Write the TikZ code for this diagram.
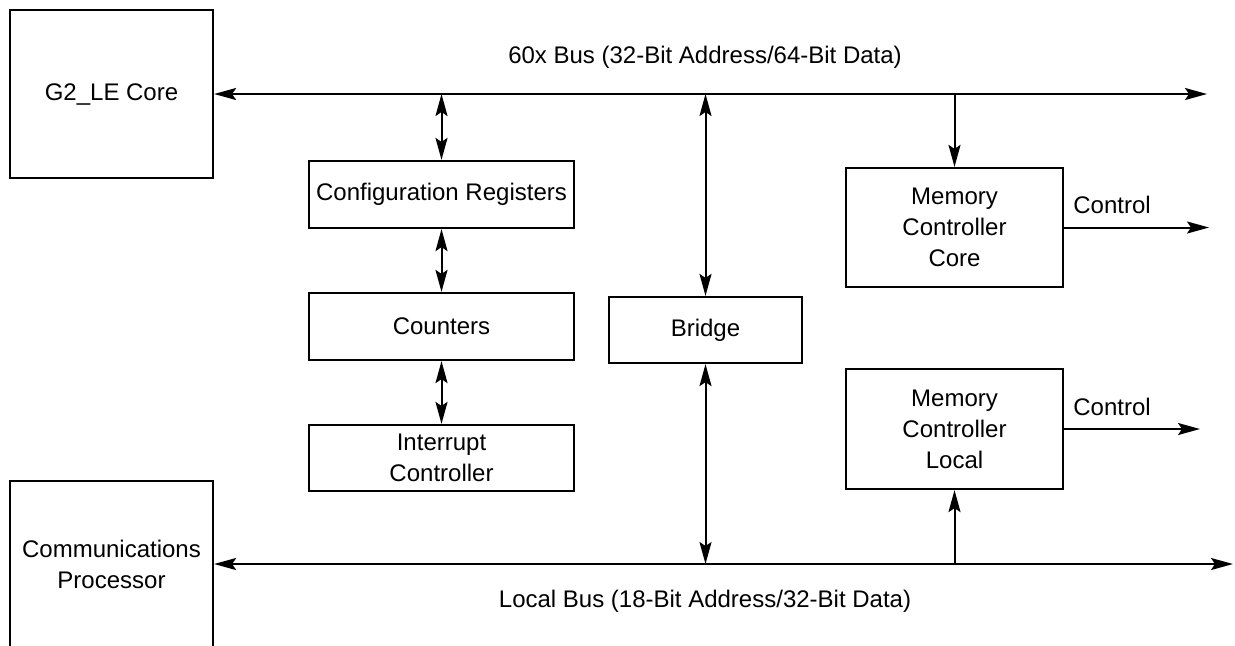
\documentclass[tikz,border=0pt]{standalone}
\usepackage{fontspec}
\setmainfont{Liberation Sans}
\usetikzlibrary{arrows.meta}

\begin{document}
\begin{tikzpicture}[x=0.5pt, y=-0.5pt, >={Stealth[length=11pt,width=6pt,inset=2pt]},
        font=\fontsize{12}{15.5}\selectfont,
        blk/.style={draw, line width=1.1pt, inner sep=0pt, align=center},
        bus/.style={line width=1pt}]
            \useasboundingbox (0,0) rectangle (1235,645);

            % processors
            \node[blk, minimum width=101.5pt, minimum height=84pt] (g2) at (111.5,94) {G2\_LE Core};
            \node[blk, minimum width=101.5pt, minimum height=83pt] (comm) at (111.5,564) {Communications\\Processor};

            % left column
            \node[blk, minimum width=132.5pt, minimum height=33.5pt] (conf) at (441.5,194.5) {Configuration Registers};
            \node[blk, minimum width=132.5pt, minimum height=33.5pt] (cnt) at (441.5,326.5) {Counters};
            \node[blk, minimum width=132.5pt, minimum height=33pt] (intr) at (441.5,458) {Interrupt\\Controller};

            \node[blk, minimum width=96.5pt, minimum height=33pt] (brg) at (705.5,330) {Bridge};

            % memory controllers
            \node[blk, minimum width=108.5pt, minimum height=59.5pt] (mcc) at (954.5,227.5) {Memory\\Controller\\Core};
            \node[blk, minimum width=108.5pt, minimum height=60pt] (mcl) at (954.5,429) {Memory\\Controller\\Local};

            % buses
            \coordinate (topR) at (1207,94);
            \coordinate (lowR) at (1233,564);
            \draw[bus, <->] (g2.east) -- (topR);
            \draw[bus, <->] (comm.east) -- (lowR);
            \node (topbus) at (705,57) {60x Bus (32-Bit Address/64-Bit Data)};
            \node (lowbus) at (705,601) {Local Bus (18-Bit Address/32-Bit Data)};

            \draw[bus, <->] (conf.north |- topR) -- (conf.north);
            \draw[bus, <->] (conf) -- (cnt);
            \draw[bus, <->] (cnt) -- (intr);
            \draw[bus, <->] (brg.north |- topR) -- (brg);
            \draw[bus, <->] (brg) -- (brg.south |- lowR);
            \draw[bus, ->] (mcc.north |- topR) -- (mcc);
            \draw[bus, ->] (mcl.south |- lowR) -- (mcl);

            % control outputs
            \coordinate (ctlA) at (1209,227.5);
            \coordinate (ctlB) at (1200,429);
            \draw[bus, ->] (mcc.east) -- (ctlA);
            \draw[bus, ->] (mcl.east) -- (ctlB);
            \node (ctlAlbl) at (1112,205) {Control};
            \node (ctlBlbl) at (1112,407) {Control};
        \end{tikzpicture}
\end{document}
